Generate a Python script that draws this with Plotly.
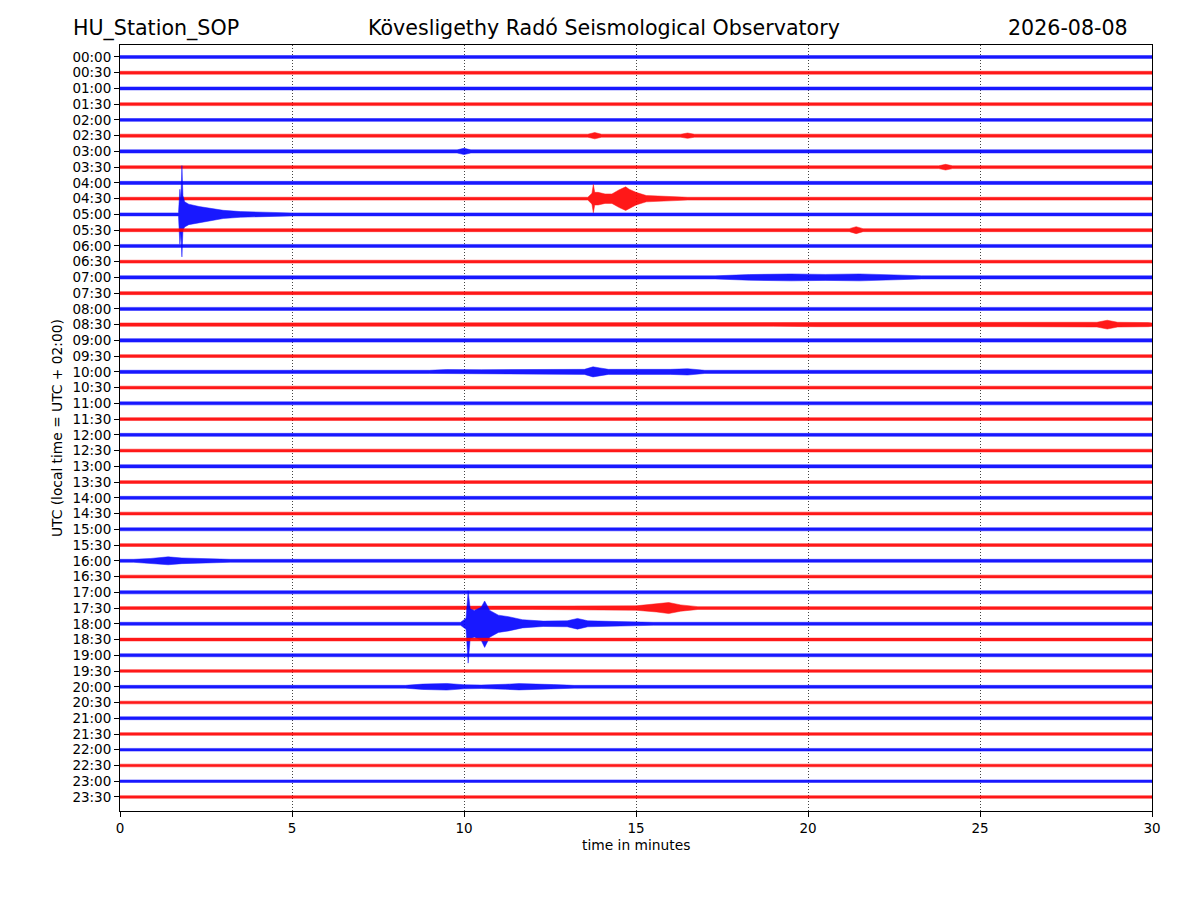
import plotly.graph_objects as go

# --- chart data -------------------------------------------------------------
ROW_LABELS = [f"{h:02d}:{m:02d}" for h in range(24) for m in (0, 30)]

# background noise half-width of each 30-minute trace (in row units)
BASE_AMP = [
    0.09, 0.09, 0.095, 0.09, 0.09, 0.095, 0.10, 0.09,
    0.10, 0.09, 0.095, 0.095, 0.095, 0.09, 0.10, 0.095,
    0.095, 0.105, 0.11, 0.09, 0.10, 0.09, 0.095, 0.09,
    0.095, 0.09, 0.10, 0.09, 0.095, 0.09, 0.095, 0.09,
    0.095, 0.09, 0.10, 0.09, 0.095, 0.09, 0.095, 0.085,
    0.09, 0.085, 0.09, 0.085, 0.085, 0.085, 0.08, 0.08,
]

# events: row index, envelope times (minutes), upper and lower half-widths
EVENT_ROWS = [10, 9, 36, 35, 14, 20, 40, 32, 17, 11, 5, 5, 6, 7]
EVENT_TIMES = [
    [1.70, 1.74, 1.77, 1.80, 1.83, 1.88, 2.0, 2.3, 2.6, 3.0, 3.5, 4.2, 5.0],
    [13.6, 13.72, 13.76, 13.80, 13.9, 14.1, 14.3, 14.5, 14.7, 14.8, 15.0, 15.3, 15.8, 16.5],
    [9.9, 10.06, 10.12, 10.18, 10.3, 10.5, 10.6, 10.75, 11.0, 11.3, 11.7, 12.3, 13.0, 13.3, 13.6, 14.5, 15.5],
    [12.0, 13.0, 15.0, 15.6, 15.95, 16.3, 16.8],
    [17.3, 18.3, 19.5, 20.5, 21.5, 22.5, 23.3],
    [9.0, 9.5, 10.5, 13.5, 13.75, 13.95, 14.2, 16.0, 16.5, 17.0],
    [8.3, 8.8, 9.5, 10.0, 10.5, 11.2, 11.6, 12.6, 13.2],
    [0.4, 0.9, 1.4, 1.8, 2.4, 3.2],
    [19.0, 20.3, 26.0, 28.4, 28.7, 29.0, 29.9],
    [21.2, 21.4, 21.6],
    [13.6, 13.8, 14.0],
    [16.3, 16.5, 16.7],
    [9.8, 10.0, 10.2],
    [23.8, 24.0, 24.2],
]
EVENT_UP = [
    [0.095, 1.6, 1.0, 3.1, 1.2, 0.8, 0.65, 0.5, 0.4, 0.26, 0.18, 0.13, 0.095],
    [0.09, 0.35, 0.9, 0.4, 0.4, 0.3, 0.3, 0.55, 0.75, 0.6, 0.4, 0.2, 0.14, 0.09],
    [0.095, 0.35, 2.1, 0.95, 0.85, 1.05, 1.45, 0.85, 0.55, 0.45, 0.26, 0.17, 0.19, 0.34, 0.19, 0.14, 0.095],
    [0.09, 0.13, 0.14, 0.25, 0.35, 0.2, 0.09],
    [0.10, 0.18, 0.22, 0.19, 0.22, 0.16, 0.10],
    [0.10, 0.15, 0.14, 0.16, 0.32, 0.25, 0.16, 0.16, 0.2, 0.10],
    [0.09, 0.17, 0.21, 0.13, 0.11, 0.16, 0.2, 0.14, 0.09],
    [0.095, 0.15, 0.25, 0.18, 0.14, 0.095],
    [0.105, 0.13, 0.13, 0.15, 0.28, 0.15, 0.13],
    [0.095, 0.22, 0.095],
    [0.095, 0.2, 0.095],
    [0.095, 0.17, 0.095],
    [0.10, 0.2, 0.10],
    [0.09, 0.18, 0.09],
]
EVENT_DOWN = [
    [0.095, 1.9, 1.2, 2.7, 1.0, 0.8, 0.65, 0.5, 0.4, 0.26, 0.18, 0.13, 0.095],
    [0.09, 0.35, 0.9, 0.4, 0.4, 0.3, 0.3, 0.55, 0.75, 0.6, 0.4, 0.2, 0.14, 0.09],
    [0.095, 0.35, 2.5, 0.95, 0.85, 1.05, 1.5, 0.85, 0.55, 0.45, 0.26, 0.17, 0.19, 0.34, 0.19, 0.14, 0.095],
    [0.09, 0.13, 0.14, 0.25, 0.35, 0.2, 0.09],
    [0.10, 0.18, 0.22, 0.19, 0.22, 0.16, 0.10],
    [0.10, 0.15, 0.14, 0.16, 0.32, 0.25, 0.16, 0.16, 0.2, 0.10],
    [0.09, 0.17, 0.21, 0.13, 0.11, 0.16, 0.2, 0.14, 0.09],
    [0.095, 0.15, 0.25, 0.18, 0.14, 0.095],
    [0.105, 0.13, 0.13, 0.15, 0.28, 0.15, 0.13],
    [0.095, 0.22, 0.095],
    [0.095, 0.2, 0.095],
    [0.095, 0.17, 0.095],
    [0.10, 0.2, 0.10],
    [0.09, 0.18, 0.09],
]

X_TICKS = [0, 5, 10, 15, 20, 25, 30]
COLORS = ["#0000ff", "#ff0000"]
FONT = "DejaVu Sans"


def row_envelope(i):
    base = BASE_AMP[i]
    knots = [(0.0, base, base), (30.0, base, base)]
    for r, t, u, d in zip(EVENT_ROWS, EVENT_TIMES, EVENT_UP, EVENT_DOWN):
        if r == i:
            knots += list(zip(t, u, d))
    knots.sort(key=lambda k: k[0])
    ts = [k[0] for k in knots]
    up = [-i + k[1] for k in knots]
    dn = [-i - k[2] for k in knots]
    return ts + ts[::-1], up + dn[::-1]


fig = go.Figure()
for i, label in enumerate(ROW_LABELS):
    xs, ys = row_envelope(i)
    c = COLORS[i % 2]
    fig.add_trace(go.Scatter(x=xs, y=ys, mode="lines", fill="toself",
                             fillcolor=c, line=dict(color=c, width=0.5),
                             opacity=0.9, name=label, hoverinfo="skip",
                             showlegend=False))

# page body adds an 8px offset, so the figure is a bit smaller than the window
fig.update_layout(
    width=1192, height=892,
    plot_bgcolor="white", paper_bgcolor="white",
    margin=dict(l=112, r=48, t=37, b=89, autoexpand=False),
    font=dict(family=FONT, size=13.5, color="black"),
)
fig.update_xaxes(
    range=[0, 30], tickvals=X_TICKS, ticks="outside", ticklen=5,
    tickcolor="black", showline=True, linecolor="black", linewidth=1,
    mirror=True, showgrid=True, gridcolor="#444444", gridwidth=0.7,
    griddash="1px,2px", zeroline=False, tickfont=dict(size=13.5),
)
fig.update_yaxes(
    range=[-47.89, 0.76], tickvals=[-i for i in range(len(ROW_LABELS))],
    ticktext=ROW_LABELS, ticks="outside", ticklen=5, tickcolor="black",
    showline=True, linecolor="black", linewidth=1, mirror=True,
    showgrid=False, zeroline=False, tickfont=dict(size=13.5),
)

# header texts and axis titles
fig.add_annotation(xref="paper", yref="paper", x=-0.0475, y=1.022,
                   xanchor="left", yanchor="middle", showarrow=False,
                   text="HU_Station_SOP", font=dict(size=20.6))
fig.add_annotation(xref="paper", yref="paper", x=0.469, y=1.022,
                   xanchor="center", yanchor="middle", showarrow=False,
                   text="Kövesligethy Radó Seismological Observatory",
                   font=dict(size=20.6))
fig.add_annotation(xref="paper", yref="paper", x=0.9787, y=1.022,
                   xanchor="right", yanchor="middle", showarrow=False,
                   text="2026-08-08", font=dict(size=20.6))
fig.add_annotation(xref="paper", yref="paper", x=-0.061, y=0.5,
                   xanchor="center", yanchor="middle", showarrow=False,
                   textangle=-90, text="UTC (local time = UTC + 02:00)",
                   font=dict(size=13.8))
fig.add_annotation(xref="paper", yref="paper", x=0.5, y=-0.0444,
                   xanchor="center", yanchor="middle", showarrow=False,
                   text="time in minutes", font=dict(size=13.8))

fig.write_html("out.html")
